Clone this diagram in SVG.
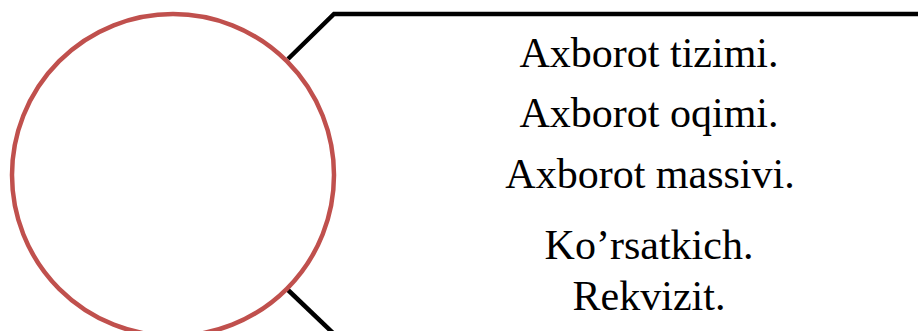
<svg xmlns="http://www.w3.org/2000/svg" width="918" height="331" viewBox="0 0 918 331">
<style>
.conn{fill:none;stroke:#000;stroke-width:4.5;stroke-linejoin:miter}
.lbl{font-family:"Liberation Serif","Times New Roman",serif;font-size:42px;fill:#000;text-anchor:middle}
</style>
<rect width="918" height="331" fill="#fff"/>
<g id="connectors">
<polyline class="conn" points="288,59 334,14 918,14"/>
<polyline class="conn" points="288,290 333,333"/>
</g>
<g id="circle">
<circle cx="173" cy="175" r="161" fill="#fff" stroke="#C0504D" stroke-width="4.5"/>
</g>
<g id="labels">
<text class="lbl" x="649" y="67">Axborot tizimi.</text>
<text class="lbl" x="649" y="127">Axborot oqimi.</text>
<text class="lbl" x="650" y="188">Axborot massivi.</text>
<text class="lbl" x="649" y="259">Ko’rsatkich.</text>
<text class="lbl" x="649" y="310">Rekvizit.</text>
</g>
</svg>
